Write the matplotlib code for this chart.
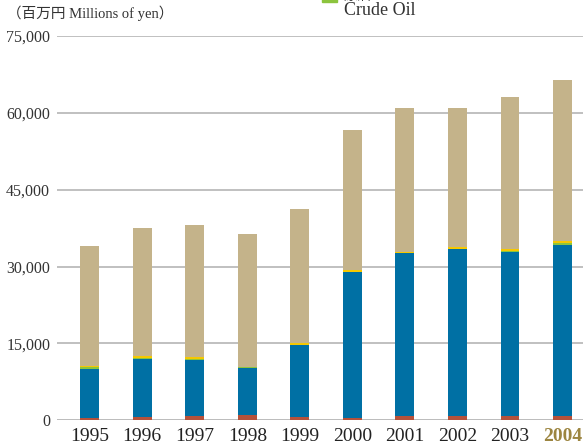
import matplotlib
matplotlib.use('Agg')
import matplotlib.pyplot as plt
from matplotlib.patches import Rectangle
import numpy as np

years = ['1995', '1996', '1997', '1998', '1999', '2000', '2001', '2002', '2003', '2004']
# stacked segments, bottom to top (millions of yen)
red = [500, 600, 900, 1000, 600, 500, 900, 900, 900, 900]
blue = [9500, 11300, 10900, 9200, 14050, 28400, 31700, 32500, 31900, 33300]
green = [400, 200, 100, 150, 100, 100, 50, 100, 200, 300]
yellow = [200, 400, 450, 50, 250, 300, 150, 400, 400, 400]
totals = [34000, 37500, 38100, 36300, 41200, 56600, 60900, 60900, 63100, 66400]

c_red = '#B5513A'
c_blue = '#0070A4'
c_green = '#8CC43E'
c_yellow = '#F6C800'
c_tan = '#C4B38A'

serif = ['Liberation Serif', 'Noto Sans CJK JP']

fig = plt.figure(figsize=(5.83, 4.46), dpi=100)
ax = fig.add_axes([0.098, 0.058, 0.902, 0.861])

x = np.arange(len(years))
w = 0.36
bottom = np.zeros(len(years))
for vals, col in [(red, c_red), (blue, c_blue), (green, c_green), (yellow, c_yellow)]:
    ax.bar(x, vals, w, bottom=bottom, color=col, zorder=3)
    bottom += np.array(vals)
tan = np.array(totals) - bottom
ax.bar(x, tan, w, bottom=bottom, color=c_tan, zorder=3)

ax.set_ylim(0, 75000)
ax.set_xlim(-0.62, 9.39)
ticks = np.arange(0, 75001, 15000)
ax.set_yticks(ticks)
ax.set_yticklabels(['0' if t == 0 else f'{t:,}' for t in ticks], family=serif, fontsize=11.5, color='#333333')
ax.set_xticks(x)
ax.set_xticklabels(years, family=serif, fontsize=14, color='#222222')
labs = ax.get_xticklabels()
labs[-1].set_color('#9C8540')
labs[-1].set_fontweight('bold')
ax.tick_params(length=0)
ax.tick_params(axis='x', pad=6)
ax.tick_params(axis='y', pad=5)
for t in ticks:
    ax.axhline(t, color='#B5B5B5', lw=1.2 if t else 2, zorder=1)
for s in ax.spines.values():
    s.set_visible(False)

fig.text(0.012, 0.952, '（百万円 Millions of yen）', family=['Liberation Serif', 'Noto Sans CJK JP'],
         fontsize=10.5, color='#333333', va='bottom')

# legend remnant, cut off by the top edge
fig.patches.append(Rectangle((0.553, 0.995), 0.025, 0.02, transform=fig.transFigure,
                             color=c_green, figure=fig))
fig.text(0.59, 0.994, '原油', family=['Noto Sans CJK JP'], fontsize=10, color='#333333', va='bottom')
fig.text(0.59, 0.957, 'Crude Oil', family=serif, fontsize=13, color='#333333', va='bottom')

fig.savefig('out.png', dpi=100)
